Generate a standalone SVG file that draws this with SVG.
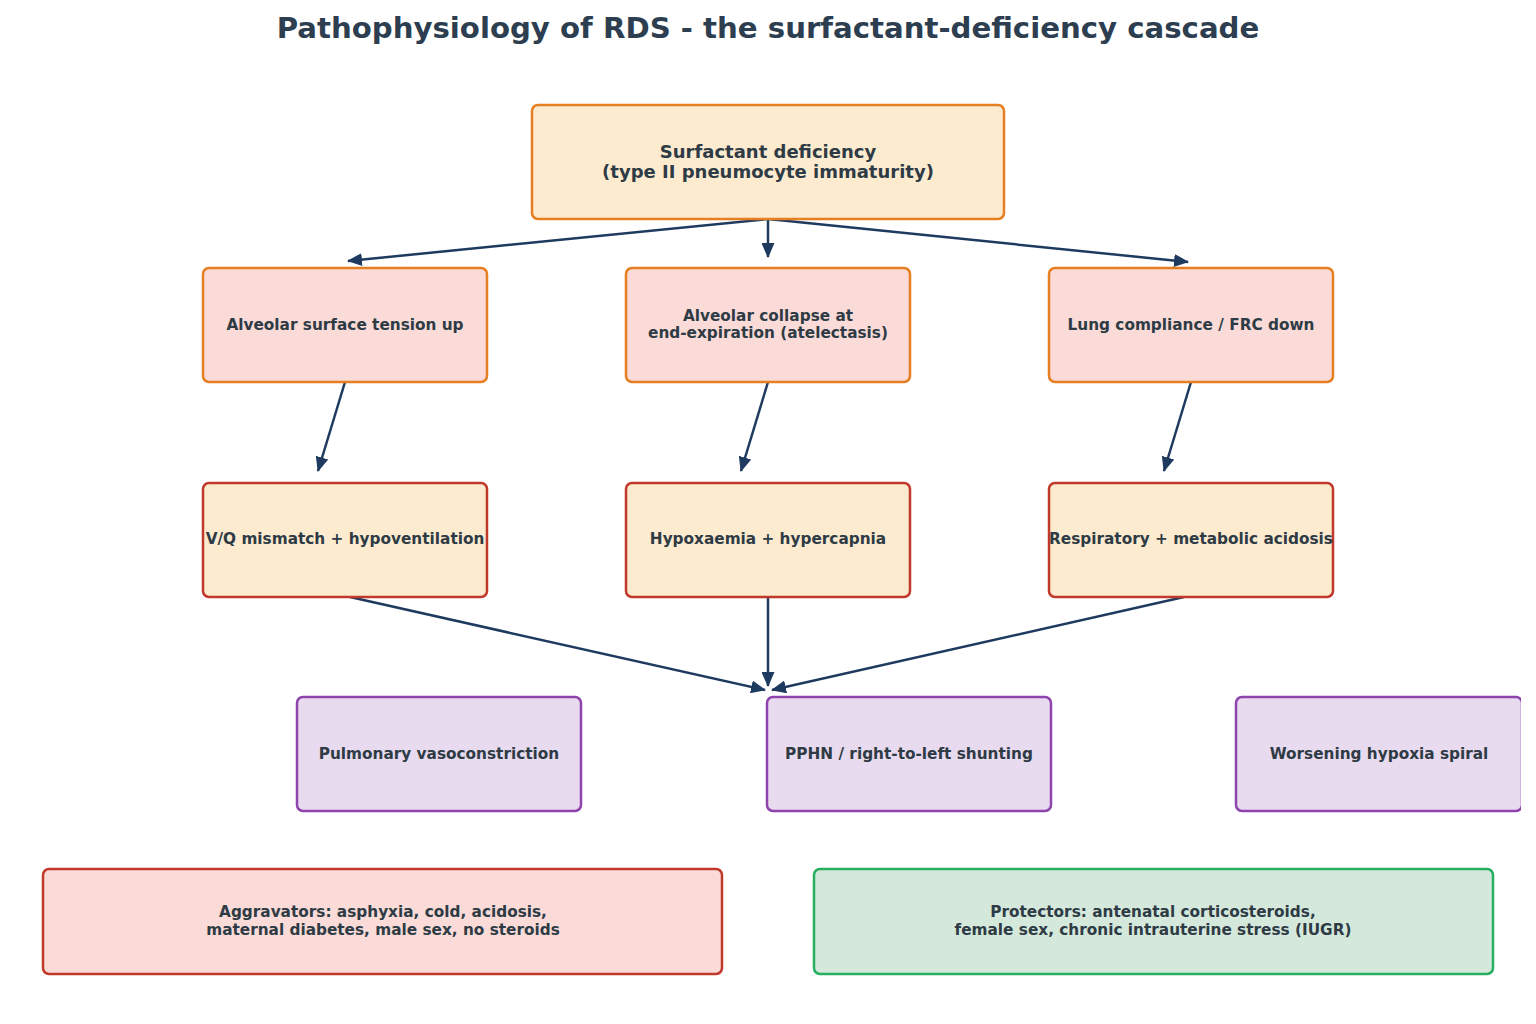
<svg xmlns="http://www.w3.org/2000/svg" width="1536" height="1024" viewBox="0 0 1536 1024">
<style>
text{font-family:"DejaVu Sans","Liberation Sans",sans-serif;font-weight:bold;fill:#2e3b45;text-anchor:middle}
.t{font-size:29.2px;fill:#2c3e50}
.l{font-size:18px}
.s{font-size:15.3px}
rect{stroke-width:2.5}
.orange{fill:#fdebd0;stroke:#e67e22}
.pink{fill:#fadbd8;stroke:#e67e22}
.cream{fill:#fdebd0;stroke:#c0392b}
.purple{fill:#e8daef;stroke:#8e44ad}
.agg{fill:#fadbd8;stroke:#c0392b}
.pro{fill:#d5e8dc;stroke:#27ae60}
.c line{stroke:#1f3a5f;stroke-width:2.5;marker-end:url(#ah)}
</style>
<defs>
<marker id="ah" viewBox="0 0 15 13" refX="14" refY="6.5" markerWidth="15" markerHeight="13" markerUnits="userSpaceOnUse" orient="auto">
<path d="M0,0 L15,6.5 L0,13 Z" fill="#1f3a5f"/>
</marker>
<clipPath id="cl"><rect x="0" y="0" width="1521" height="1024"/></clipPath>
</defs>
<rect width="1536" height="1024" fill="#fff"/>
<text class="t" x="768" y="38">Pathophysiology of RDS - the surfactant-deficiency cascade</text>
<g class="c">
<line x1="768" y1="219" x2="348" y2="261"/>
<line x1="768" y1="219" x2="768" y2="257"/>
<line x1="768" y1="219" x2="1188" y2="262"/>
<line x1="345" y1="382" x2="318" y2="471"/>
<line x1="768" y1="382" x2="741" y2="471"/>
<line x1="1191" y1="382" x2="1164" y2="471"/>
<line x1="350" y1="597" x2="765" y2="690"/>
<line x1="768" y1="597" x2="768" y2="686"/>
<line x1="1184" y1="597" x2="772" y2="690"/>
</g>
<g id="n_top"><rect class="orange" x="532" y="105" width="472" height="114" rx="6"/>
<text class="l" x="768" y="158">Surfactant deficiency</text><text class="l" x="768" y="178">(type II pneumocyte immaturity)</text></g>
<g id="n_tension"><rect class="pink" x="203" y="268" width="284" height="114" rx="6"/>
<text class="s" x="345" y="330">Alveolar surface tension up</text></g>
<g id="n_collapse"><rect class="pink" x="626" y="268" width="284" height="114" rx="6"/>
<text class="s" x="768" y="321">Alveolar collapse at</text><text class="s" x="768" y="338">end-expiration (atelectasis)</text></g>
<g id="n_compliance"><rect class="pink" x="1049" y="268" width="284" height="114" rx="6"/>
<text class="s" x="1191" y="330">Lung compliance / FRC down</text></g>
<g id="n_vq"><rect class="cream" x="203" y="483" width="284" height="114" rx="6"/>
<text class="s" x="345" y="544">V/Q mismatch + hypoventilation</text></g>
<g id="n_hypox"><rect class="cream" x="626" y="483" width="284" height="114" rx="6"/>
<text class="s" x="768" y="544">Hypoxaemia + hypercapnia</text></g>
<g id="n_acid"><rect class="cream" x="1049" y="483" width="284" height="114" rx="6"/>
<text class="s" x="1191" y="544">Respiratory + metabolic acidosis</text></g>
<g id="n_vaso"><rect class="purple" x="297" y="697" width="284" height="114" rx="6"/>
<text class="s" x="439" y="759">Pulmonary vasoconstriction</text></g>
<g id="n_pphn"><rect class="purple" x="767" y="697" width="284" height="114" rx="6"/>
<text class="s" x="909" y="759">PPHN / right-to-left shunting</text></g>
<g id="n_spiral"><rect class="purple" x="1236" y="697" width="286" height="114" rx="6" clip-path="url(#cl)"/>
<text class="s" x="1379" y="759">Worsening hypoxia spiral</text></g>
<g id="n_agg"><rect class="agg" x="43" y="869" width="679" height="105" rx="6"/>
<text class="s" x="383" y="917">Aggravators: asphyxia, cold, acidosis,</text><text class="s" x="383" y="935">maternal diabetes, male sex, no steroids</text></g>
<g id="n_pro"><rect class="pro" x="814" y="869" width="679" height="105" rx="6"/>
<text class="s" x="1153" y="917">Protectors: antenatal corticosteroids,</text><text class="s" x="1153" y="935">female sex, chronic intrauterine stress (IUGR)</text></g>
</svg>
